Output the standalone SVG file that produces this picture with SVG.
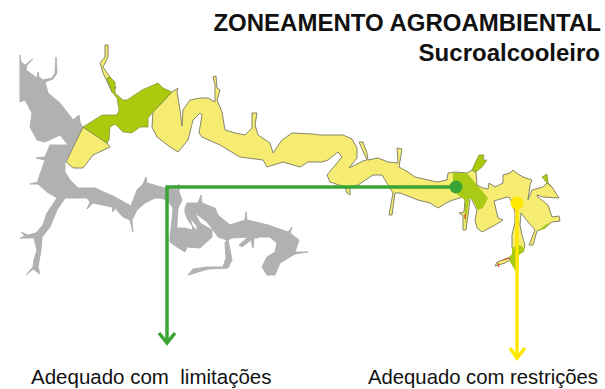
<svg xmlns="http://www.w3.org/2000/svg" width="605" height="389" viewBox="0 0 605 389">
<defs><filter id="soft" x="-5%" y="-5%" width="110%" height="110%"><feGaussianBlur stdDeviation="0.45"/></filter></defs>
<style>
.m{filter:url(#soft)}
.g{fill:#b1b1b1;stroke:#b1b1b1;stroke-width:1;stroke-linejoin:round;fill-rule:evenodd}
.y{fill:#f7ec72;stroke:#85856a;stroke-width:1;stroke-linejoin:round}
.o{fill:#abca0f;stroke:#7f8f40;stroke-width:.7;stroke-linejoin:round}
.p{fill:#a9cb15;stroke:none}
.r{fill:none;stroke:#d8492a;stroke-width:1.2}
.c{fill:none;stroke-width:3.5}
.t{font-family:"Liberation Sans",Arial,sans-serif;fill:#111}
.h{font-size:24px;font-weight:700;text-anchor:end}
.l{font-size:20.3px;white-space:pre}
</style>
<g id="reservoir-gray" class="m">
<path class="g" d="M20 55L21 62L25 65L33 59L27 65L26 70L37 78L38 72L39 77L43 80L52 78L55 73L56 57L57 73L53 79L45 82L48 93L60 103L73 120L79 115L80 122L83 128L65 162L65 172L70 180L78 188L95 188L115 197L131 206L137 190L143 184L146 177L147 183L165 188L177 190L179 184L179 192L182 200L178 208L177 223L177 228L185 228L192 230L193 227L188 220L185 213L185 208L187 203L198 203L201 195L202 203L215 208L218 215L230 225L245 220L246 212L247 220L268 225L288 232L292 227L290 233L299 240L295 252L308 252L295 254L280 263L275 275L267 275L262 267L267 257L275 252L277 243L270 237L259 237L254 237L258 238L254 238L253 248L251 240L242 247L239 245L248 237L232 238L228 240L232 260L228 268L208 269L195 273L188 275L193 269L207 267L223 267L226 258L225 243L227 240L218 237L213 230L207 222L195 213L200 223L212 230L212 237L200 248L187 247L185 252L177 247L170 242L170 237L172 220L173 208L167 200L160 198L155 198L145 203L137 210L132 220L133 232L130 220L123 217L115 208L113 212L112 207L93 203L87 209L90 202L87 198L65 198L57 210L50 227L42 237L41 250L38 267L40 274L33 269L26 275L33 267L34 260L37 250L34 238L28 238L20 238L25 236L21 232L28 235L36 233L43 225L47 213L57 198L47 192L38 184L30 184L38 182L38 180L45 160L36 158L45 157L50 145L68 145L60 135L45 142L37 140L30 127L32 113L25 100L20 102ZM190 218L197 226L197 231L192 225Z"/>
</g>
<g id="zone-yellow-west" class="m">
<path class="y" d="M83 127L107 143L110 147L93 155L83 168L73 168L66 162Z"/>
</g>
<g id="zone-yellow-main" class="m">
<path class="y" d="M172 92L178 88L177 92L180 110L182 126L183 110L190 100L200 98L208 98L215 102L215 85L213 77L216 76L217 88L220 90L217 100L222 112L225 130L235 133L245 135L252 128L252 113L257 113L255 125L258 135L270 143L273 153L282 140L292 133L313 134L320 135L343 135L352 139L357 148L357 158L349 168L363 161L367 160L359 142L363 142L367 153L368 160L378 158L388 162L398 163L397 148L402 149L399 167L408 172L415 177L437 182L447 180L448 173L455 172L467 173L472 170L476 172L477 185L483 188L488 189L489 183L495 187L503 183L503 175L510 173L513 170L518 174L523 177L532 180L530 185L528 200L532 190L543 187L547 183L552 187L559 198L543 197L537 195L538 197L548 205L552 217L559 216L560 221L552 222L545 228L537 231L533 245L529 245L535 230L528 222L521 213L520 225L522 235L525 245L523 252L519 253L512 248L512 235L515 222L515 212L510 198L507 197L494 201L498 218L503 220L495 225L482 232L477 228L475 220L477 210L472 200L470 198L465 200L463 197L453 200L448 202L438 208L430 203L418 200L400 193L395 193L392 215L389 215L393 193L382 175L373 175L358 185L350 187L350 195L347 193L345 187L330 182L327 175L342 157L338 152L328 160L322 162L308 162L300 167L283 162L267 167L263 160L240 157L220 145L202 137L199 133L202 115L200 113L193 120L188 140L178 152L170 147L157 137L152 127L153 112Z"/>
<path class="y" d="M105 45L105 57L100 63L103 73L112 92L116 88L110 77L103 67L108 57L108 45Z"/>
</g>
<g id="zone-green-west" class="m">
<path class="o" d="M83 127L102 115L117 115L119 110L117 98L112 92L107 78L110 77L115 82L115 93L123 100L127 100L142 90L158 83L163 88L172 92L153 112L148 118L148 127L140 127L132 133L123 132L115 124L110 127L109 140L107 143Z"/>
</g>
<g id="zone-green-east" class="m">
<path class="y" d="M459 213L464 212L465 200L470 200L466 230L463 230L463 215Z"/>
<path class="p" d="M453 173L467 173L488 198L483 208L478 210L473 200L469 198L465 227L465 200L458 195L453 183Z"/>
<path class="o" d="M472 170L475 163L479 155L484 155L483 160L487 160L482 167L476 172Z"/>
<path class="o" d="M542 177L547 174L548 183L552 187L547 183Z"/>
<path class="p" d="M538 231L545 225L551 222L545 228Z"/>
<path class="p" d="M512 248L520 245L525 249L523 252L519 255L518 275L510 262L508 258L512 254Z"/>
<path class="y" d="M495 266L497 262L508 258L511 259L505 263Z"/>
<path class="r" d="M498 263L499 267M503 260L509 258"/>
<path class="r" d="M465 214L465 219"/>
</g>
<g id="connectors">
<path class="c" stroke="#3aa535" d="M456 187H167V343M159 333L167 343L175 333"/>
<path class="c" stroke="#ffe800" d="M517 203V358M510 348L517 358L525 348"/>
<circle cx="456" cy="187" r="6.5" fill="#3aa535"/>
<circle cx="517" cy="203" r="6.5" fill="#ffe800"/>
</g>
<g id="labels">
<text class="t h" x="601" y="31">ZONEAMENTO AGROAMBIENTAL</text>
<text class="t h" x="600" y="61">Sucroalcooleiro</text>
<text class="t l" x="31" y="384" style="font-size:20.5px" xml:space="preserve">Adequado com  limitações</text>
<text class="t l" x="368" y="384">Adequado com restrições</text>
</g>
</svg>
